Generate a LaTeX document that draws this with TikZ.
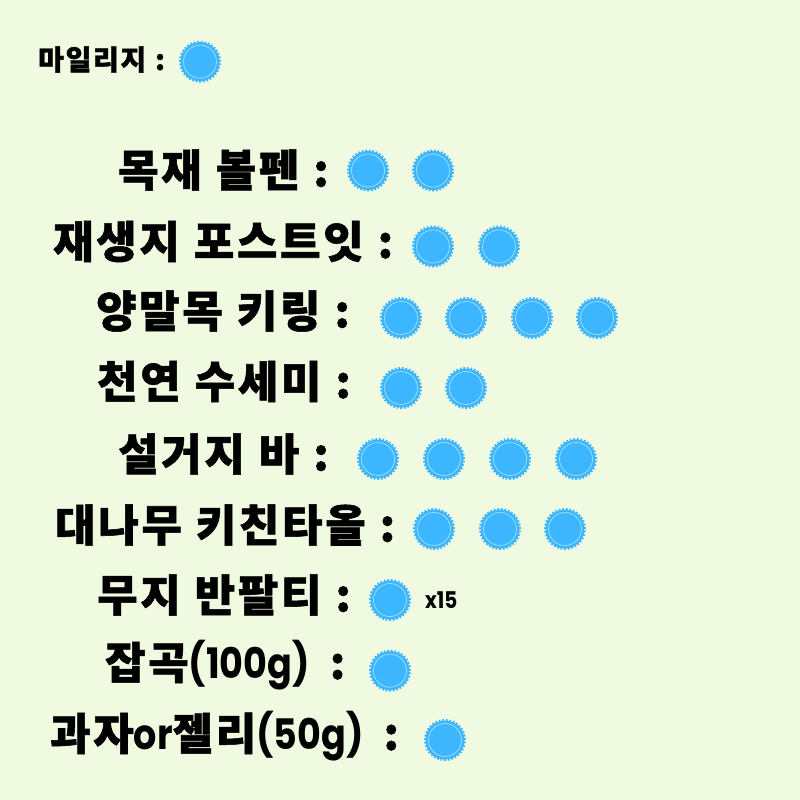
\documentclass[tikz,border=0pt]{standalone}
\usepackage{fontspec}
\newfontfamily\kr{Noto Sans CJK KR}[WordSpace=1.1, LetterSpace=6, BoldFeatures={FakeBold=1.2}]
\newfontfamily\pop{Poppins}[FakeStretch=0.87]
\definecolor{bgc}{RGB}{240,250,225}
\definecolor{stk}{RGB}{59,182,255}
\definecolor{ring}{RGB}{160,218,255}
\tikzset{
  lbl/.style={anchor=west, inner sep=0pt, text=black, font=\kr\bfseries\fontsize{44}{44}\selectfont},
  small/.style={anchor=west, inner sep=0pt, text=black, font=\kr\bfseries\fontsize{28}{28}\selectfont},
  sticker/.style={circle, minimum size=39pt, inner sep=0pt, fill=stk, draw=stk, line width=3pt,
    dash pattern=on 1.75pt off 1.75pt,
    path picture={\draw[ring, line width=0.8pt, solid] (path picture bounding box.center) circle (16.5pt);}},
}
\newcommand{\lat}[1]{{\pop\bfseries\fontsize{42}{42}\selectfont #1}}
\begin{document}
\begin{tikzpicture}[x=1pt, y=-1pt]
\useasboundingbox (0,0) rectangle (800,800);
\fill[bgc] (0,0) rectangle (800,800);
% row 1
\node[small] (t1) at (38,59.5) {마일리지 :};
\node[sticker] (s1a) at (200,61.7) {};
% row 2
\node[lbl] (t2) at (118,170) {목재 볼펜 :};
\node[sticker] (s2a) at (368,170.5) {};
\node[sticker] (s2b) at (433,170.5) {};
% row 3
\node[lbl] (t3) at (53,241.5) {재생지 포스트잇 :};
\node[sticker] (s3a) at (433,246.5) {};
\node[sticker] (s3b) at (499,246.5) {};
% row 4
\node[lbl] (t4) at (96,311) {양말목 키링 :};
\node[sticker] (s4a) at (401,318) {};
\node[sticker] (s4b) at (466,318) {};
\node[sticker] (s4c) at (532,318) {};
\node[sticker] (s4d) at (597,318) {};
% row 5
\node[lbl] (t5) at (97,381.5) {천연 수세미 :};
\node[sticker] (s5a) at (401,388) {};
\node[sticker] (s5b) at (466,388) {};
% row 6
\node[lbl] (t6) at (118,454) {설거지 바 :};
\node[sticker] (s6a) at (378,459) {};
\node[sticker] (s6b) at (444,459) {};
\node[sticker] (s6c) at (510,459) {};
\node[sticker] (s6d) at (576,459) {};
% row 7
\node[lbl] (t7) at (55,525) {대나무 키친타올 :};
\node[sticker] (s7a) at (434,529) {};
\node[sticker] (s7b) at (500,529) {};
\node[sticker] (s7c) at (565,529) {};
% row 8
\node[lbl] (t8) at (97,595) {무지 반팔티 :};
\node[sticker] (s8a) at (390,600) {};
\node[anchor=west, inner sep=0pt, font=\pop\bfseries\fontsize{23}{23}\selectfont] (x15) at (425,600) {x15};
% row 9
\node[lbl] (t9) at (105,665.5) {잡곡\lat{(100g)}\kern6pt\ :};
\node[sticker] (s9a) at (390,670.7) {};
% row 10
\node[lbl] (t10) at (50,736.5) {과자\lat{or}젤리\lat{(50g)}\kern6pt\ :};
\node[sticker] (s10a) at (445,740) {};
\end{tikzpicture}
\end{document}
